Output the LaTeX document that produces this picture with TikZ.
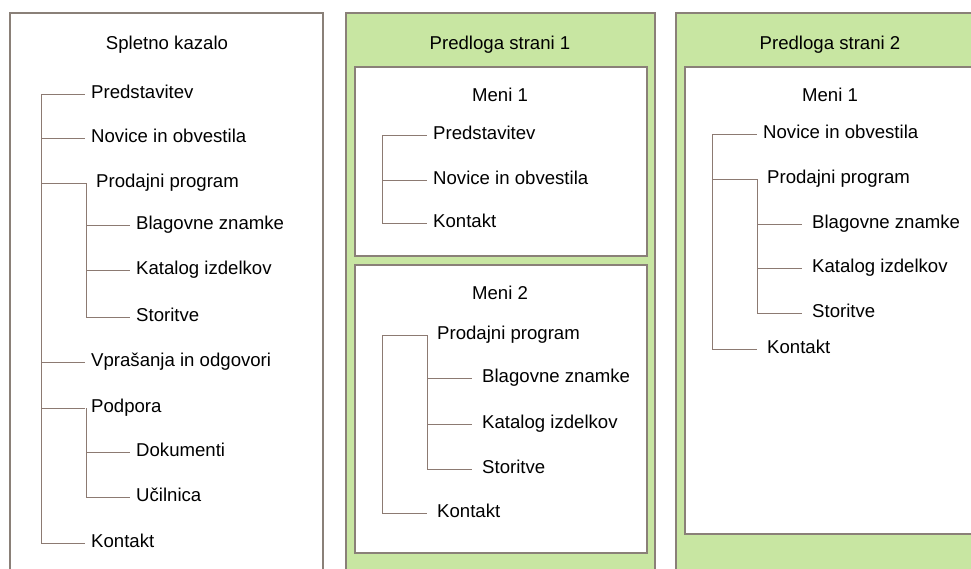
\documentclass[tikz,border=0pt]{standalone}
\usepackage{fontspec}
\setmainfont{Liberation Sans}
\definecolor{framec}{HTML}{8A8078}
\definecolor{linec}{HTML}{8C7A72}
\definecolor{panelgreen}{HTML}{C8E6A2}
\tikzset{
  panel/.style={draw=framec, line width=1.1pt},
  item/.style={anchor=west, inner xsep=6pt, inner ysep=0pt, text height=13pt, text depth=4pt,
    font=\fontsize{18.6}{22}\selectfont, text=black},
  itemwide/.style={item, inner xsep=10pt},
  heading/.style={anchor=center, inner sep=0pt, text height=13pt, text depth=4pt,
    font=\fontsize{18.6}{22}\selectfont, text=black},
  link/.style={draw=linec, line width=1pt}
}
\begin{document}
\begin{tikzpicture}[x=1pt, y=-1pt]
\useasboundingbox (0,0) rectangle (971,568);
\clip (0,0) rectangle (971,568);

% ---------- panels ----------
\draw[panel, fill=white] (10,13) rectangle (323,600);
\draw[panel, fill=panelgreen] (346,13) rectangle (655,600);
\draw[panel, fill=white] (355,67) rectangle (647,256);
\draw[panel, fill=white] (355,265) rectangle (647,553);
\draw[panel, fill=panelgreen] (676,13) rectangle (1000,600);
\draw[panel, fill=white] (685,67) rectangle (1000,534);

% ---------- Spletno kazalo ----------
\node[heading] (hA) at (167,45) {Spletno kazalo};
\coordinate (tA) at (41,94);
\node[item] (a1) at (85,94) {Predstavitev};
\node[item] (a2) at (85,138) {Novice in obvestila};
\node[itemwide] (a3) at (86,183) {Prodajni program};
\node[item] (a31) at (130,225) {Blagovne znamke};
\node[item] (a32) at (130,270) {Katalog izdelkov};
\node[item] (a33) at (130,317) {Storitve};
\node[item] (a4) at (85,362) {Vprašanja in odgovori};
\node[item] (a5) at (85,408) {Podpora};
\node[item] (a51) at (130,452) {Dokumenti};
\node[item] (a52) at (130,497) {Učilnica};
\node[item] (a6) at (85,543) {Kontakt};

\draw[link] (tA) -- (a6.west -| tA);
\foreach \n in {a1,a2,a3,a4,a5,a6} \draw[link] (\n.west -| tA) -- (\n.west);
\draw[link] (a3.west) -- (a33.west -| a3.west);
\foreach \n in {a31,a32,a33} \draw[link] (\n.west -| a3.west) -- (\n.west);
\draw[link] (a5.west -| a3.west) -- (a52.west -| a3.west);
\foreach \n in {a51,a52} \draw[link] (\n.west -| a3.west) -- (\n.west);

% ---------- Predloga strani 1 ----------
\node[heading] (hB) at (500,45) {Predloga strani 1};
\node[heading] (mB1) at (500,97) {Meni 1};
\coordinate (tB) at (382,135);
\node[item] (b1) at (427,135) {Predstavitev};
\node[item] (b2) at (427,180) {Novice in obvestila};
\node[item] (b3) at (427,223) {Kontakt};
\draw[link] (tB) -- (b3.west -| tB);
\foreach \n in {b1,b2,b3} \draw[link] (\n.west -| tB) -- (\n.west);

\node[heading] (mB2) at (500,295) {Meni 2};
\coordinate (tC) at (382,335);
\node[itemwide] (c1) at (427,335) {Prodajni program};
\node[itemwide] (c11) at (472,378) {Blagovne znamke};
\node[itemwide] (c12) at (472,424) {Katalog izdelkov};
\node[itemwide] (c13) at (472,469) {Storitve};
\node[itemwide] (c2) at (427,513) {Kontakt};
\draw[link] (tC) -- (c2.west -| tC);
\foreach \n in {c1,c2} \draw[link] (\n.west -| tC) -- (\n.west);
\draw[link] (c1.west) -- (c13.west -| c1.west);
\foreach \n in {c11,c12,c13} \draw[link] (\n.west -| c1.west) -- (\n.west);

% ---------- Predloga strani 2 ----------
\node[heading] (hD) at (830,45) {Predloga strani 2};
\node[heading] (mD1) at (830,97) {Meni 1};
\coordinate (tD) at (712,134);
\node[item] (d1) at (757,134) {Novice in obvestila};
\node[itemwide] (d2) at (757,179) {Prodajni program};
\node[itemwide] (d21) at (802,224) {Blagovne znamke};
\node[itemwide] (d22) at (802,268) {Katalog izdelkov};
\node[itemwide] (d23) at (802,313) {Storitve};
\node[itemwide] (d3) at (757,349) {Kontakt};
\draw[link] (tD) -- (d3.west -| tD);
\foreach \n in {d1,d2,d3} \draw[link] (\n.west -| tD) -- (\n.west);
\draw[link] (d2.west) -- (d23.west -| d2.west);
\foreach \n in {d21,d22,d23} \draw[link] (\n.west -| d2.west) -- (\n.west);
\end{tikzpicture}
\end{document}
